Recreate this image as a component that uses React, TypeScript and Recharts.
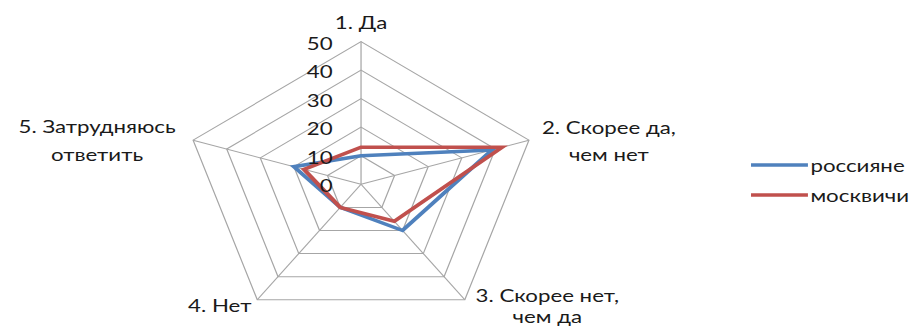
import React from "react";
import {
  Legend,
  PolarAngleAxis,
  PolarGrid,
  PolarRadiusAxis,
  Radar,
  RadarChart,
} from "recharts";

const categories = [
  "1. Да",
  "2. Скорее да, чем нет",
  "3. Скорее нет, чем да",
  "4. Нет",
  "5. Затрудняюсь ответить",
];
const rossiyane = [10, 39, 20, 10, 20];
const moskvichi = [13, 42, 16, 10, 17];
const radiusTicks = [0, 10, 20, 30, 40, 50];

const data = categories.map((name, i) => ({
  name,
  rossiyane: rossiyane[i],
  moskvichi: moskvichi[i],
}));

// the reference is an Excel picture stretched sideways
const STRETCH = 923 / 746;
const FONT = "Lato, 'Open Sans', sans-serif";
const TEXT = "#1a1a1a";
const FS = 18;

// label lines and nudges per category (relative to the tick point)
const labelLines: string[][] = [
  ["1. Да"],
  ["2. Скорее да,", "чем нет"],
  ["3. Скорее нет,", "чем да"],
  ["4. Нет"],
  ["5. Затрудняюсь", "ответить"],
];
const labelPlace = [
  { dx: 0, dy: -12, gap: 0, anchor: "middle" },
  { dx: 57, dy: -11, gap: 27, anchor: "middle" },
  { dx: 62, dy: -11, gap: 21, anchor: "middle" },
  { dx: 0, dy: -1, gap: 0, anchor: "end" },
  { dx: -70, dy: -12, gap: 28, anchor: "middle" },
];

function AngleTick(props: any) {
  const { x, y, index } = props;
  const p = labelPlace[index];
  return (
    <g>
      {labelLines[index].map((line, k) => (
        <text
          key={k}
          x={x + p.dx}
          y={y + p.dy + k * p.gap}
          textAnchor={p.anchor}
          dominantBaseline="central"
          fontFamily={FONT}
          fontSize={FS}
          fill={TEXT}
        >
          {line}
        </text>
      ))}
    </g>
  );
}

function RadiusTick(props: any) {
  const { x, y, payload } = props;
  return (
    <text
      x={x - 23}
      y={y + 1}
      textAnchor="end"
      dominantBaseline="central"
      fontFamily={FONT}
      fontSize={FS}
      fill={TEXT}
    >
      {payload.value}
    </text>
  );
}

const legendItems = [
  { label: "россияне", color: "#4F81BD" },
  { label: "москвичи", color: "#C0504D" },
];

function LegendBox() {
  return (
    <div>
      {legendItems.map((it) => (
        <div
          key={it.label}
          style={{ display: "flex", alignItems: "center", height: 30 }}
        >
          <svg width={46} height={6} style={{ marginRight: 2 }}>
            <line x1={0} y1={3} x2={46} y2={3} stroke={it.color} strokeWidth={3.5} />
          </svg>
          <span style={{ fontFamily: FONT, fontSize: FS, color: TEXT }}>
            {it.label}
          </span>
        </div>
      ))}
    </div>
  );
}

export default function App() {
  return (
    <div
      style={{
        position: "absolute",
        left: 0,
        top: 0,
        width: 746,
        height: 326,
        transform: `scaleX(${STRETCH})`,
        transformOrigin: "0 0",
        background: "#fff",
      }}
    >
      <RadarChart
        width={746}
        height={326}
        data={data}
        cx={291.8}
        cy={184.3}
        outerRadius={142.7}
        margin={{ top: 0, right: 0, bottom: 0, left: 0 }}
      >
        <PolarGrid gridType="polygon" stroke="#a6a6a6" strokeWidth={1} />
        <PolarAngleAxis
          dataKey="name"
          tick={AngleTick}
          tickLine={false}
          axisLine={false}
        />
        <PolarRadiusAxis
          angle={90}
          domain={[0, 50]}
          ticks={radiusTicks as any}
          tickCount={6}
          axisLine={false}
          tickLine={false}
          tick={RadiusTick}
        />
        <Radar
          name="россияне"
          dataKey="rossiyane"
          stroke="#4F81BD"
          strokeWidth={3.5}
          fill="none"
          fillOpacity={0}
          dot={false}
          isAnimationActive={false}
        />
        <Radar
          name="москвичи"
          dataKey="moskvichi"
          stroke="#C0504D"
          strokeWidth={3.5}
          fill="none"
          fillOpacity={0}
          dot={false}
          isAnimationActive={false}
        />
        <Legend
          content={LegendBox}
          wrapperStyle={{ position: "absolute", left: 607, top: 150, width: 140 }}
        />
      </RadarChart>
    </div>
  );
}
